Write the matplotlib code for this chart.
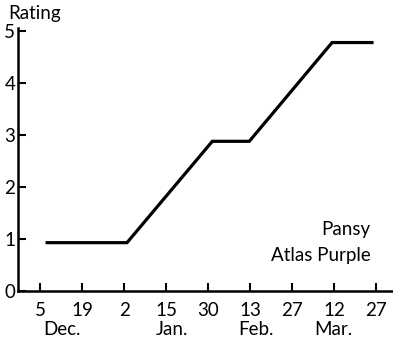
import numpy as np
import matplotlib
matplotlib.use("Agg")
import matplotlib.pyplot as plt

plt.rcParams["font.family"] = ["Lato", "DejaVu Sans"]

# tick labels along the date axis (evenly spaced, index positions)
day_labels = ["5", "19", "2", "15", "30", "13", "27", "12", "27"]
month_labels = ["Dec.", "Jan.", "Feb.", "Mar."]
month_pos = [0.52, 3.14, 5.14, 6.98]

# rating curve, x in tick-index units
dates = [0.17, 2.07, 4.1, 4.98, 6.95, 7.9]
rating = [0.93, 0.93, 2.88, 2.88, 4.78, 4.78]

W, H = 393, 340
fig = plt.figure(figsize=(W / 100, H / 100), dpi=100)
ax = fig.add_axes([18 / W, (H - 291) / H, 1 - 18 / W, (291 - 28) / H])

ax.plot(dates, rating, color="black", lw=2.3, solid_joinstyle="miter")

ax.set_xlim(-0.524, 8.4)
ax.set_ylim(0, 5.06)
ax.set_xticks(np.arange(len(day_labels)))
ax.set_xticklabels(day_labels)
ax.set_yticks([0, 1, 2, 3, 4, 5])

for s in ["top", "right"]:
    ax.spines[s].set_visible(False)
for s in ["left", "bottom"]:
    ax.spines[s].set_linewidth(1.8)

ax.tick_params(axis="both", direction="in", length=6, width=1.5, labelsize=13.5, colors="black")
ax.tick_params(axis="x", pad=8)
ax.tick_params(axis="y", pad=2)

for m, p in zip(month_labels, month_pos):
    ax.text(p, -0.145, m, transform=ax.get_xaxis_transform(), ha="center", va="center", fontsize=13.5)

fig.text(8 / W, 1 - 14 / H, "Rating", ha="left", va="center", fontsize=13.5)
fig.text(370 / W, 1 - 229 / H, "Pansy", ha="right", va="center", fontsize=13.5)
fig.text(371 / W, 1 - 255 / H, "Atlas Purple", ha="right", va="center", fontsize=13.5)

fig.savefig("out.png", dpi=100)
